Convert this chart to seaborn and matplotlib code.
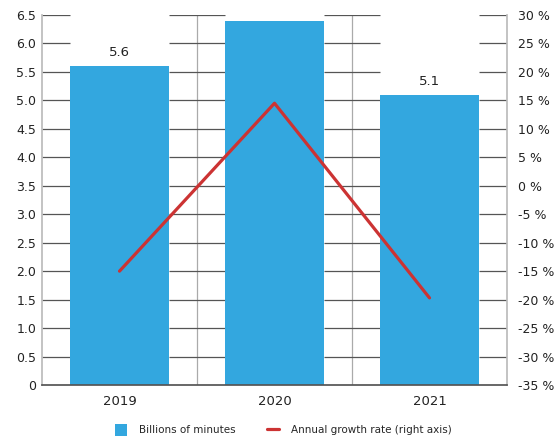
import matplotlib
matplotlib.use("Agg")
import matplotlib.pyplot as plt
import seaborn as sns
import pandas as pd
from matplotlib.patches import Patch
from matplotlib.lines import Line2D

years = ["2019", "2020", "2021"]
minutes = [5.6, 6.4, 5.1]
growth = [-15.0, 14.5, -19.7]
bar_labels = ["5.6", "", "5.1"]
left_ticks = [0, 0.5, 1.0, 1.5, 2.0, 2.5, 3.0, 3.5, 4.0, 4.5, 5.0, 5.5, 6.0, 6.5]
right_ticks = [-35, -30, -25, -20, -15, -10, -5, 0, 5, 10, 15, 20, 25, 30]

sns.set_theme(style="white")
plt.rcParams['font.family'] = ['DejaVu Sans']
plt.rcParams['axes.grid'] = False

df = pd.DataFrame({"year": years, "minutes": minutes, "growth": growth})

fig = plt.figure(figsize=(5.54, 4.38), dpi=100)
rect = [42/554, 53/438, (507-42)/554, (385-15)/438]

bar_color = "#33A7DF"
line_color = "#CC3333"
bar_width = 0.645

ax = fig.add_axes(rect)
sns.barplot(data=df, x="year", y="minutes", color=bar_color, saturation=1,
            width=bar_width, linewidth=0, ax=ax, err_kws={"linewidth": 0})
ax.set_xlim(-0.5, 2.5)
ax.set_ylim(0, 6.5)
ax.set_yticks(left_ticks)
ax.set_yticklabels(["0" if t == 0 else f"{t:.1f}" for t in left_ticks])

# horizontal grid only in the gaps between bars (so it sits visually behind bars)
n = len(years)
gaps = [(-0.5, -bar_width / 2)]
for i in range(n - 1):
    gaps.append((i + bar_width / 2, i + 1 - bar_width / 2))
gaps.append((n - 1 + bar_width / 2, n - 0.5))
for t in left_ticks[1:]:
    for x0, x1 in gaps:
        ax.hlines(t, x0, x1, color="#555555", lw=0.9, zorder=0.5)
for x in [0.5, 1.5]:
    ax.axvline(x, color="#AAAAAA", lw=0.9, zorder=0.4)

ax.set_xlabel("")
ax.set_ylabel("")
ax.spines["top"].set_visible(False)
ax.spines["left"].set_color("#BBBBBB")
ax.spines["right"].set_color("#BBBBBB")
ax.spines["bottom"].set_color("#555555")
ax.tick_params(axis="both", length=0, labelsize=9, labelcolor="#222222", pad=4)
ax.tick_params(axis="x", pad=7, labelsize=9.5)

for i, lab in enumerate(bar_labels):
    if lab:
        ax.text(i, minutes[i] + 0.12, lab, ha="center", va="bottom", fontsize=9.5,
                color="#222222")

ax2 = fig.add_axes(rect)
ax2.set_zorder(2)
ax2.patch.set_visible(False)
sns.lineplot(data=df, x="year", y="growth", color=line_color, lw=2.3, ax=ax2)
ax2.set_xlim(-0.5, 2.5)
ax2.set_ylim(-35, 30)
ax2.yaxis.tick_right()
ax2.set_yticks(right_ticks)
ax2.set_yticklabels([f"{t} %" for t in right_ticks])
ax2.set_ylabel("")
ax2.set_xlabel("")
ax2.xaxis.set_visible(False)
for s in ["top", "left", "bottom", "right"]:
    ax2.spines[s].set_visible(False)
ax2.tick_params(axis="y", length=0, labelsize=9, labelcolor="#222222", pad=8)
ax2.grid(False)

handles = [Patch(facecolor=bar_color, edgecolor="none", label="Billions of minutes"),
           Line2D([0], [0], color=line_color, lw=2.3, label="Annual growth rate (right axis)")]
fig.legend(handles=handles, loc="center", bbox_to_anchor=(283/554, 1 - 430/438), ncol=2,
           frameon=False, fontsize=7.5, handlelength=1.2, handleheight=1.5, columnspacing=3.0,
           handletextpad=1.1)

fig.savefig("out.png", dpi=100)
